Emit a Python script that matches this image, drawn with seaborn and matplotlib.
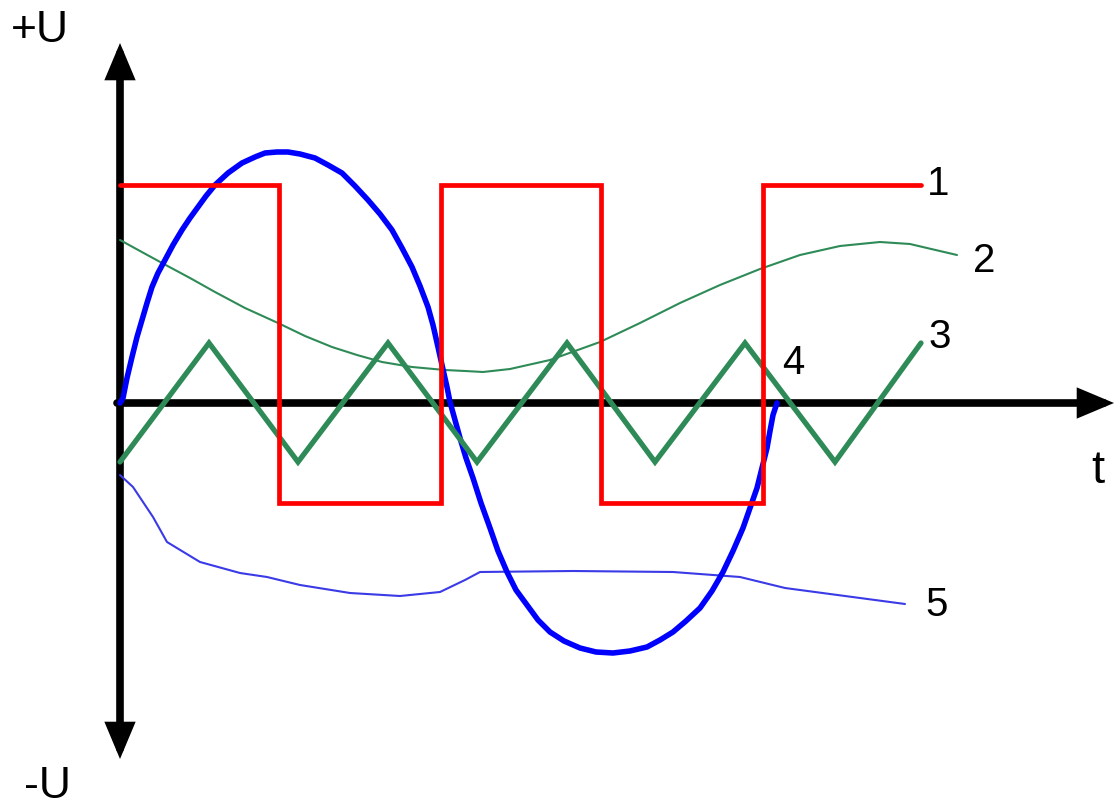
import matplotlib
matplotlib.use("Agg")
import matplotlib.pyplot as plt
import seaborn as sns
import pandas as pd

# ---- data (t = time units from origin, u = voltage units) ----
# 1: rectangular wave (step points, value holds until next t)
sq_t = [0, 159, 321, 481, 643, 801]
sq_u = [218, -100, 218, -100, 218, 218]

# 2: slow thin green wave
slow_t = [0, 20, 42, 70, 95, 125, 158, 185, 212, 237, 262, 292, 325, 345, 363, 390, 430,
          480, 520, 560, 600, 640, 680, 720, 760, 790, 807, 837]
slow_u = [163, 152, 140, 125, 111, 95, 80, 67, 56, 48, 41, 36, 33, 32, 31, 34, 43,
          61, 80, 100, 118, 134, 148, 157, 161, 159, 155, 148]

# 3: triangle wave
tri_t = [0, 89, 178, 268, 357, 447, 535, 625, 715, 801]
tri_u = [-59, 60, -59, 60, -59, 60, -59, 60, -59, 60]

# 4: large sine-like wave
sin_t = [0, 3, 7, 12, 17, 22, 27, 32, 38, 45, 53, 62, 70, 78, 86, 95, 108, 122, 135, 145,
         157, 168, 180, 195, 208, 222, 235, 248, 260, 272, 282, 292, 300, 308, 313, 318,
         322, 327, 330, 335, 340, 346, 353, 361, 370, 378, 387, 396, 407, 418, 430, 444,
         460, 476, 493, 510, 527, 540, 553, 566, 580, 592, 603, 613, 623, 630, 637, 642,
         647, 650, 653, 657]
sin_u = [0, 5, 25, 46, 66, 83, 100, 116, 130, 143, 158, 173, 185, 196, 207, 218, 230, 240,
         246, 250, 251, 251, 249, 245, 238, 230, 217, 203, 189, 173, 155, 136, 117, 96, 78,
         56, 38, 16, 1, -17, -35, -55, -75, -100, -125, -148, -169, -187, -202, -217, -229,
         -238, -245, -249, -250, -248, -244, -237, -229, -218, -205, -188, -169, -148, -125,
         -105, -85, -65, -45, -28, -12, 0]

# 5: thin irregular blue curve
irr_t = [0, 13, 33, 47, 80, 120, 147, 180, 230, 280, 320, 345, 360, 453, 553, 620, 665, 725, 785]
irr_u = [-72, -84, -114, -139, -159, -170, -174, -182, -190, -193, -189, -177, -169, -168, -169,
         -174, -185, -193, -201]

labels = ["1", "2", "3", "4", "5"]

# ---- figure ----
sns.set_theme(style="white")
plt.rcParams["font.family"] = ["Liberation Sans", "DejaVu Sans"]

fig = plt.figure(figsize=(11.17, 8.09), dpi=100)
ax = fig.add_axes([0, 0, 1, 1])
ax.set_xlim(-120, 997)
ax.set_ylim(-406, 403)
ax.set_axis_off()

# axes arrows (drawn beneath curves)
arrow_kw = dict(arrowstyle="-|>,head_length=1.0,head_width=0.42", color="black",
                lw=5.5, shrinkA=0, shrinkB=0, mutation_scale=17, joinstyle="miter")
ax.annotate("", xy=(994, 0), xytext=(-3, 0), arrowprops=arrow_kw, zorder=1)
ax.annotate("", xy=(0, 360), xytext=(0, 0), arrowprops=arrow_kw, zorder=1)
ax.annotate("", xy=(0, -356), xytext=(0, 0), arrowprops=arrow_kw, zorder=1)

df_slow = pd.DataFrame({"t": slow_t, "u": slow_u})
df_irr = pd.DataFrame({"t": irr_t, "u": irr_u})
df_sin = pd.DataFrame({"t": sin_t, "u": sin_u})
df_tri = pd.DataFrame({"t": tri_t, "u": tri_u})
df_sq = pd.DataFrame({"t": sq_t, "u": sq_u})

common = dict(ax=ax, x="t", y="u", sort=False, estimator=None, legend=False)
sns.lineplot(data=df_slow, color="#2e8b57", lw=1.5, zorder=3, **common)
sns.lineplot(data=df_irr, color="#3a3ae6", lw=1.5, zorder=3, **common)
sns.lineplot(data=df_sin, color="#0000ff", lw=4.0, zorder=4, **common)
sns.lineplot(data=df_tri, color="#2e8b57", lw=3.8, zorder=5, solid_joinstyle="miter", **common)
sns.lineplot(data=df_sq, color="#ff0000", lw=3.4, zorder=6, drawstyle="steps-post",
             solid_joinstyle="miter", **common)

# curve labels
label_pos = [(818, 219), (864, 142), (820, 66), (673, 40), (817, -202)]
for lab, (lx, ly) in zip(labels, label_pos):
    ax.text(lx, ly, lab, fontsize=29, ha="center", va="center", color="black")

ax.text(-80, 373, "+U", fontsize=32, ha="center", va="center", color="black")
ax.text(-73, -383, "-U", fontsize=32, ha="center", va="center", color="black")
ax.text(978, -68, "t", fontsize=34, ha="center", va="center", color="black")

fig.savefig("out.png", dpi=100, facecolor="white")
